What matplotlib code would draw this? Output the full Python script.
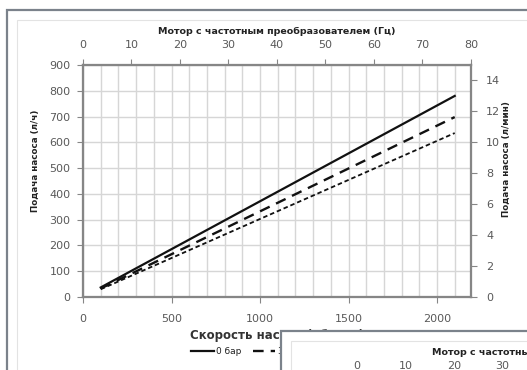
import matplotlib
matplotlib.use("Agg")
import matplotlib.pyplot as plt
from matplotlib.patches import Rectangle
import numpy as np

# pump speed (rpm) and flow (l/h) at three outlet pressures
speed_rpm = [100, 2100]
flow_0bar = [37, 780]
flow_3bar = [33, 698]
flow_6bar = [30, 636]
series_labels = ["0 бар", "3 бар", "6 бар"]

rpm_ticks = [0, 500, 1000, 1500, 2000]
hz_ticks = [0, 10, 20, 30, 40, 50, 60, 70, 80]
lh_ticks = [0, 100, 200, 300, 400, 500, 600, 700, 800, 900]
lmin_ticks = [0, 2, 4, 6, 8, 10, 12, 14]

W, H = 527, 370
TICK_COLOR = "#595959"
SPINE_COLOR = "#868686"
GRID_COLOR = "#d6d6d6"
LINE_COLOR = "#111111"


def fx(x):
    return x / W


def fy(y):
    return 1 - y / H


def draw_chart(fig, ox, oy, z):
    # chart frame and plot-area border
    fig.add_artist(Rectangle((fx(7 + ox), fy(10 + oy + 700)), 800 / W, 700 / H,
                             transform=fig.transFigure, facecolor="white",
                             edgecolor="#7b828b", lw=1.6, zorder=z))
    fig.add_artist(Rectangle((fx(17 + ox), fy(20 + oy + 700)), 800 / W, 700 / H,
                             transform=fig.transFigure, facecolor="none",
                             edgecolor="#e3e3e3", lw=0.8, zorder=z + 0.1))

    ax = fig.add_axes([fx(83 + ox), fy(297 + oy), (471 - 83) / W, (297 - 65) / H])
    ax.plot(speed_rpm, flow_0bar, color=LINE_COLOR, lw=1.6, label=series_labels[0])
    ax.plot(speed_rpm, flow_3bar, color=LINE_COLOR, lw=1.7, dashes=(4.5, 3),
            label=series_labels[1])
    ax.plot(speed_rpm, flow_6bar, color=LINE_COLOR, lw=1.3, dashes=(2.5, 1.6),
            label=series_labels[2])
    ax.set_xlim(0, 2192)
    ax.set_ylim(0, 900)
    ax.set_xticks(rpm_ticks)
    ax.set_xticks(np.arange(0, 2200, 100), minor=True)
    ax.set_yticks(lh_ticks)
    ax.set_axisbelow(True)
    ax.grid(True, which="both", axis="x", color=GRID_COLOR, lw=1)
    ax.grid(True, which="major", axis="y", color=GRID_COLOR, lw=1)
    ax.tick_params(axis="x", which="minor", length=0)
    ax.tick_params(axis="x", which="major", length=4, pad=8)
    ax.tick_params(axis="y", length=4, pad=5)
    ax.tick_params(which="both", colors=SPINE_COLOR, labelcolor=TICK_COLOR, labelsize=8)

    top = ax.twiny()
    top.set_xlim(0, 80)
    top.set_xticks(hz_ticks)
    top.tick_params(length=4, pad=7, colors=SPINE_COLOR, labelcolor=TICK_COLOR, labelsize=8)

    right = ax.twinx()
    right.set_ylim(0, 15)
    right.set_yticks(lmin_ticks)
    right.tick_params(length=4, pad=7, colors=SPINE_COLOR, labelcolor=TICK_COLOR, labelsize=8)

    for a in (ax, top, right):
        a.set_zorder(z + 1)
        for s in a.spines.values():
            s.set_color(SPINE_COLOR)
            s.set_linewidth(1.5)

    ax.legend(loc="center", bbox_to_anchor=(fx(278 + ox), fy(352 + oy)),
              bbox_transform=fig.transFigure, ncol=3, frameon=False,
              fontsize=6.5, handlelength=2.5, handletextpad=0.25,
              columnspacing=1.3, labelcolor="#222222")

    fig.text(fx(277 + ox), fy(31 + oy), "Мотор с частотным преобразователем (Гц)",
             ha="center", va="center", fontsize=6.8, fontweight="bold",
             color="#222222", zorder=z + 2)
    fig.text(fx(277 + ox), fy(335 + oy), "Скорость насоса (об/мин)",
             ha="center", va="center", fontsize=8.5, fontweight="bold",
             color="#333333", zorder=z + 2)
    fig.text(fx(35 + ox), fy(161 + oy), "Подача насоса (л/ч)", rotation=90,
             ha="center", va="center", fontsize=6.3, fontweight="bold",
             color="#222222", zorder=z + 2)
    fig.text(fx(506 + ox), fy(159 + oy), "Подача насоса (л/мин)", rotation=90,
             ha="center", va="center", fontsize=6.3, fontweight="bold",
             color="#222222", zorder=z + 2)


fig = plt.figure(figsize=(W / 100, H / 100), dpi=100)
fig.patch.set_facecolor("white")
draw_chart(fig, 0, 0, 0)
# a second copy of the chart overlaps the lower right corner
draw_chart(fig, 274, 321, 10)
fig.savefig("out.png", dpi=100)
